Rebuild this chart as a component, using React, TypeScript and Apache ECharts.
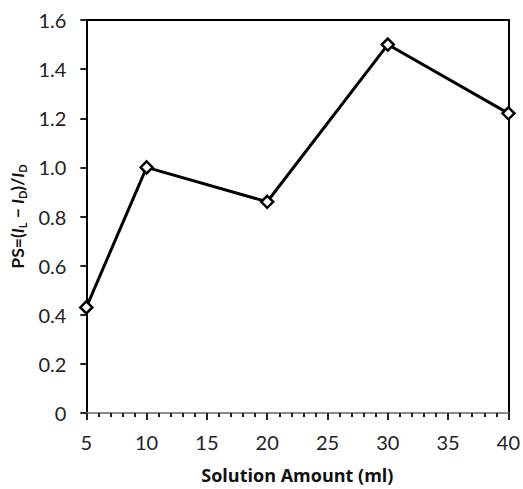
import React, { useEffect, useRef } from "react";
import * as echarts from "echarts";

const xValues = [5, 10, 20, 30, 40];
const psValues = [0.43, 1.0, 0.86, 1.5, 1.22];

const FONT = "Lato";

export default function App() {
  const ref = useRef<HTMLDivElement>(null);
  useEffect(() => {
    if (!ref.current) return;
    const chart = echarts.init(ref.current, null, { renderer: "svg" });
    chart.setOption({
      animation: false,
      backgroundColor: "#ffffff",
      grid: { left: 85, right: 13, top: 20, bottom: 71.5 },
      xAxis: [
        {
          type: "value",
          min: 5,
          max: 40,
          interval: 5,
          name: "Solution Amount (ml)",
          nameLocation: "middle",
          nameGap: 53,
          nameTextStyle: { fontFamily: "Open Sans", fontWeight: "bold", fontSize: 18, color: "#111" },
          axisLine: { show: true, lineStyle: { color: "#8c8c8c", width: 2 } },
          axisTick: { show: true, length: 7, lineStyle: { color: "#222", width: 2 } },
          minorTick: { show: true, splitNumber: 5, length: 4, lineStyle: { color: "#222", width: 2 } },
          axisLabel: { margin: 19, fontFamily: FONT, fontSize: 20, color: "#222" },
          splitLine: { show: false },
        },
        {
          type: "value",
          position: "top",
          min: 5,
          max: 40,
          interval: 5,
          axisLine: { show: true, onZero: false, lineStyle: { color: "#000", width: 2 } },
          axisTick: { show: false },
          axisLabel: { show: false },
          splitLine: { show: false },
        },
      ],
      yAxis: [
        {
          type: "value",
          min: 0,
          max: 1.6,
          interval: 0.2,
          name:
            "PS=({i|I}{sub|L}{n| − }{i|I}{sub|D}{n|)/}{i|I}{sub|D}",
          nameLocation: "middle",
          nameRotate: 90,
          nameGap: 52,
          nameTextStyle: {
            fontFamily: FONT,
            fontWeight: "bold",
            fontSize: 17.5,
            color: "#111",
            rich: {
              i: { fontFamily: FONT, fontWeight: "bold", fontStyle: "italic", fontSize: 17.5, color: "#111" },
              sub: { fontFamily: FONT, fontWeight: "bold", fontSize: 11, color: "#111", padding: [10, 0, 0, 0] },
              n: { fontFamily: FONT, fontWeight: "bold", fontSize: 17.5, color: "#111" },
            },
          },
          axisLine: { show: true, onZero: false, lineStyle: { color: "#000", width: 2 } },
          axisTick: { show: true, length: 6, lineStyle: { color: "#222", width: 2 } },
          axisLabel: {
            margin: 20,
            fontFamily: FONT,
            fontSize: 20,
            color: "#222",
            formatter: (v: number) => (v === 0 ? "0" : v.toFixed(1)),
          },
          splitLine: { show: false },
        },
        {
          type: "value",
          position: "right",
          min: 0,
          max: 1.6,
          interval: 0.2,
          axisLine: { show: true, onZero: false, lineStyle: { color: "#000", width: 2 } },
          axisTick: { show: false },
          axisLabel: { show: false },
          splitLine: { show: false },
        },
      ],
      series: [
        {
          type: "line",
          xAxisIndex: 0,
          yAxisIndex: 0,
          data: xValues.map((x, i) => [x, psValues[i]]),
          lineStyle: { color: "#000", width: 3 },
          symbol: "diamond",
          symbolSize: 12,
          itemStyle: { color: "#fff", borderColor: "#000", borderWidth: 2.5 },
          z: 5,
        },
      ],
    });
    return () => chart.dispose();
  }, []);
  return <div ref={ref} style={{ width: 523, height: 489, position: "absolute", left: 0, top: 0 }} />;
}
